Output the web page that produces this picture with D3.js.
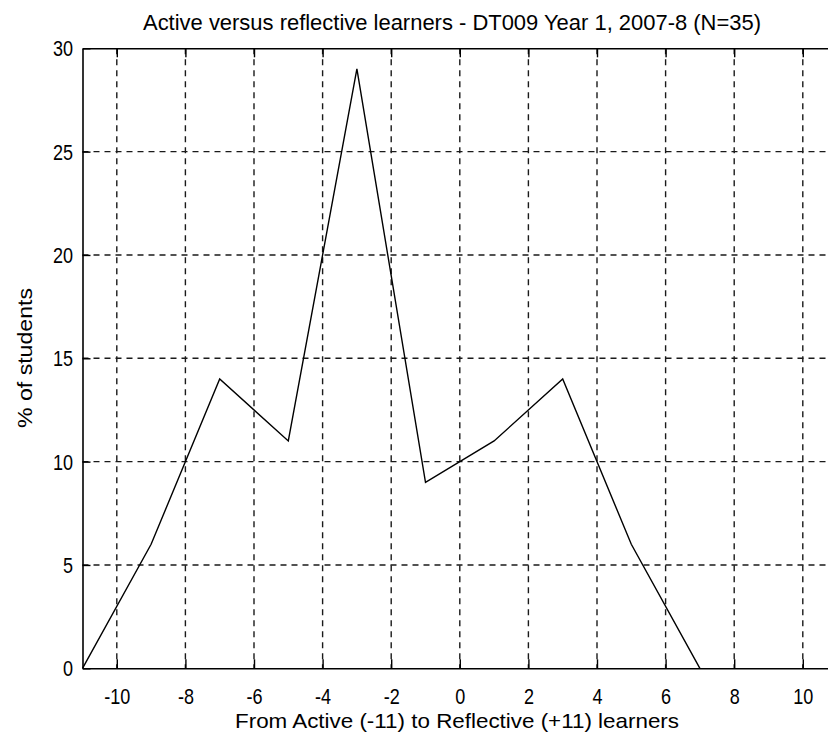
<!DOCTYPE html>
<html>
<head>
<meta charset="utf-8">
<script src="https://cdn.jsdelivr.net/npm/d3@7"></script>
<style>
  body { margin: 0; background: #fff; }
  svg { display: block; font-family: "Liberation Sans", Arial, sans-serif; }
</style>
</head>
<body>
<div id="chart"></div>
<script>
// scores on the active/reflective scale and % of students at each
const scores = [-11, -9, -7, -5, -3, -1, 1, 3, 5, 7];
const percents = [0, 6, 14, 11, 29, 9, 11, 14, 6, 0];
const xTicks = [-10, -8, -6, -4, -2, 0, 2, 4, 6, 8, 10];
const yTicks = [0, 5, 10, 15, 20, 25, 30];

const titleText = 'Active versus reflective learners - DT009 Year 1, 2007-8 (N=35)';
const xLabelText = 'From Active (-11) to Reflective (+11) learners';
const yLabelText = '% of students';

const width = 828,
  height = 734;
const plotLeft = 82.5,
  plotTop = 48.3,
  plotBottom = 668.3,
  unit = 34.3;
const squeeze = 0.82; // matlab font is narrow and tall

const x = d3
  .scaleLinear()
  .domain([-11, 11])
  .range([plotLeft, plotLeft + 22 * unit]);
const y = d3.scaleLinear().domain([0, 30]).range([plotBottom, plotTop]);

const svg = d3
  .select('#chart')
  .append('svg')
  .attr('width', width)
  .attr('height', height);

// grid (dashed)
const grid = svg.append('g').attr('class', 'grid');
grid
  .selectAll('line.vx')
  .data(xTicks)
  .join('line')
  .attr('x1', (d) => x(d))
  .attr('x2', (d) => x(d))
  .attr('y1', plotTop)
  .attr('y2', plotBottom)
  .attr('stroke', '#1a1a1a')
  .attr('stroke-width', 1.4)
  .attr('stroke-dasharray', '6,5');
grid
  .selectAll('line.hy')
  .data(yTicks.slice(1, -1))
  .join('line')
  .attr('x1', plotLeft)
  .attr('x2', x(11))
  .attr('y1', (d) => y(d))
  .attr('y2', (d) => y(d))
  .attr('stroke', '#1a1a1a')
  .attr('stroke-width', 1.4)
  .attr('stroke-dasharray', '6,5');

// axes, matlab style ticks pointing inwards
function styleAxis(g) {
  g.selectAll('path.domain').attr('stroke', '#000').attr('stroke-width', 1.6);
  g.selectAll('.tick line').attr('stroke', '#000').attr('stroke-width', 1.4);
  g.selectAll('.tick text')
    .attr('fill', '#000')
    .attr('font-size', '22px')
    .attr('transform', `scale(${squeeze},1)`);
}
const plain = (d) => String(d); // hyphen minus, not unicode minus

svg
  .append('g')
  .attr('transform', `translate(0,${plotBottom})`)
  .call(
    d3
      .axisBottom(x)
      .tickValues(xTicks)
      .tickFormat(plain)
      .tickSizeInner(-9)
      .tickSizeOuter(0),
  )
  .call(styleAxis)
  .call((g) => g.selectAll('.tick text').attr('dy', '0.71em').attr('y', 20.5));

svg
  .append('g')
  .attr('transform', `translate(0,${plotTop})`)
  .call(d3.axisTop(x).tickValues(xTicks).tickSizeInner(-9).tickSizeOuter(0).tickFormat(''))
  .call(styleAxis);

svg
  .append('g')
  .attr('transform', `translate(${plotLeft},0)`)
  .call(
    d3
      .axisLeft(y)
      .tickValues(yTicks)
      .tickFormat(plain)
      .tickSizeInner(-8)
      .tickSizeOuter(0),
  )
  .call(styleAxis)
  .call((g) =>
    g
      .selectAll('.tick text')
      .attr('x', -9.5 / squeeze)
      .attr('dy', '0.34em'),
  );

// data line
const line = d3
  .line()
  .x((d, i) => x(scores[i]))
  .y((d) => y(d));
svg
  .append('path')
  .datum(percents)
  .attr('d', line)
  .attr('fill', 'none')
  .attr('stroke', '#000')
  .attr('stroke-width', 1.4)
  .attr('stroke-linejoin', 'miter');

// labels
svg
  .append('text')
  .attr('x', 452)
  .attr('y', 30)
  .attr('text-anchor', 'middle')
  .attr('font-size', '22px')
  .attr('textLength', 618)
  .attr('lengthAdjust', 'spacingAndGlyphs')
  .text(titleText);

svg
  .append('text')
  .attr('x', 457)
  .attr('y', 728)
  .attr('text-anchor', 'middle')
  .attr('font-size', '21px')
  .attr('textLength', 444)
  .attr('lengthAdjust', 'spacingAndGlyphs')
  .text(xLabelText);

svg
  .append('text')
  .attr('transform', 'translate(31.5,358) rotate(-90)')
  .attr('text-anchor', 'middle')
  .attr('font-size', '21px')
  .attr('textLength', 140)
  .attr('lengthAdjust', 'spacingAndGlyphs')
  .text(yLabelText);
</script>
</body>
</html>
